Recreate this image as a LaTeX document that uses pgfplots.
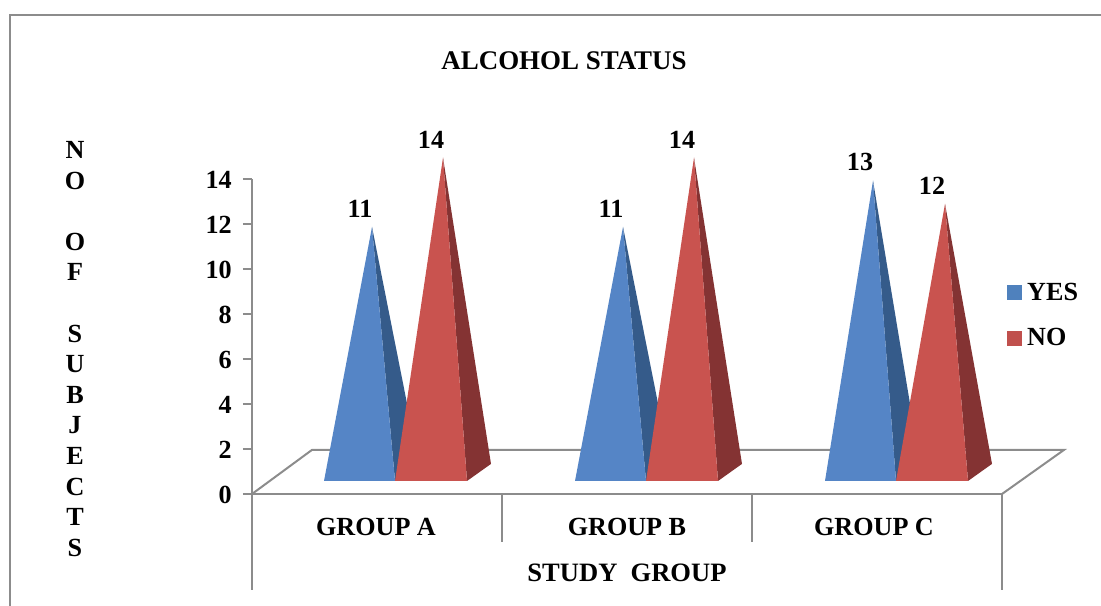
\documentclass[border=0pt]{standalone}
\usepackage{pgfplots}
\pgfplotsset{compat=1.18}
\usepackage{fontspec}
\setmainfont{Liberation Serif}

\definecolor{yesfront}{HTML}{5585C6}
\definecolor{yesside}{HTML}{355B8A}
\definecolor{nofront}{HTML}{C9534F}
\definecolor{noside}{HTML}{843333}
\definecolor{yeskey}{HTML}{4F81BD}
\definecolor{nokey}{HTML}{C0504D}
\definecolor{rulegray}{HTML}{8C8C8C}

\newcommand{\chartfont}{\fontsize{19.6}{22.95}\selectfont\bfseries}

% One drawing unit is one sheet pixel; the plot frame spans x 252..1002, y 179..494.
\pgfplotsset{
  plotframe/.style={
    scale only axis, width=562.5pt, height=236.25pt,
    at={(189pt,84pt)}, anchor=south west, clip=false,
  },
}

\begin{document}
\begin{tikzpicture}
\path[use as bounding box] (0,0) rectangle (825.75pt,454.5pt);

% Outer frame of the chart area
\draw[rulegray, line width=1.5pt] (7.5pt,0pt) -- (7.5pt,443.25pt) -- (825.75pt,443.25pt);

% Value axis, floor and category rules
\begin{axis}[
  plotframe,
  xmin=252, xmax=1002, ymin=0, ymax=14,
  axis x line=bottom, axis y line=left,
  axis line style={rulegray, line width=1.5pt, -},
  ytick={0,2,...,14},
  xtick={376,627,874},
  xticklabels={GROUP A,GROUP B,GROUP C},
  tick style={rulegray, line width=1.5pt},
  major tick length=6.75pt,
  xtick style={draw=none},
  tick align=outside,
  /pgf/number format/assume math mode=true,
  yticklabel style={font=\chartfont, inner sep=0pt, xshift=-8.25pt, yshift=-0.6pt},
  xticklabel style={font=\chartfont, inner sep=0pt, yshift=-11pt},
  title={ALCOHOL STATUS},
  title style={font=\fontsize{20.2}{24}\selectfont\bfseries, at={(0.416,1.35)}, anchor=center},
  xlabel={STUDY\ \ GROUP},
  xlabel style={font=\fontsize{19.9}{24}\selectfont\bfseries, at={(0.5,-0.251)}, anchor=center},
  ylabel={N\\O\\~\\O\\F\\~\\S\\U\\B\\J\\E\\C\\T\\S},
  ylabel style={font=\chartfont, align=center, rotate=-90, at={(-0.236,0.4605)}, anchor=center},
]
% Floor outline
\addplot[rulegray, line width=1.5pt, line join=miter] coordinates {(252,0) (312,1.96) (1064,1.96) (1002,0)};
% Rules below the category axis
\addplot[rulegray, line width=1.5pt] coordinates {(252,0) (252,-4.27)};
\addplot[rulegray, line width=1.5pt] coordinates {(502,0) (502,-2.13)};
\addplot[rulegray, line width=1.5pt] coordinates {(752,0) (752,-2.13)};
\addplot[rulegray, line width=1.5pt] coordinates {(1002,0) (1002,-4.27)};
\end{axis}

% Pyramids: their base line sits on the front of the floor, 13 pixels above the axis
\begin{axis}[
  plotframe,
  hide axis,
  xmin=252, xmax=1002, ymin=-0.5628, ymax=13.074,
  legend style={
    draw=none, fill=none, at={(axis cs:1007,7.17)}, anchor=west,
    font=\chartfont, inner sep=0pt, outer sep=0pt,
    row sep=15.5pt, legend cell align=left,
    /tikz/every odd column/.append style={column sep=2.25pt},
  },
  legend image code/.code={\fill[#1] (0pt,-5.25pt) rectangle (10.5pt,5.25pt);},
]
\addlegendimage{yeskey}
\addlegendentry{YES}
\addlegendimage{nokey}
\addlegendentry{NO}

% GROUP A
\addplot[fill=yesside, draw=none, forget plot] coordinates {(395,0) (419,0.74) (372,11)} --cycle;
\addplot[fill=yesfront, draw=none, forget plot] coordinates {(324,0) (395,0) (372,11)} --cycle;
\addplot[fill=noside, draw=none, forget plot] coordinates {(467,0) (491,0.74) (443,14)} --cycle;
\addplot[fill=nofront, draw=none, forget plot] coordinates {(395,0) (467,0) (443,14)} --cycle;
% GROUP B
\addplot[fill=yesside, draw=none, forget plot] coordinates {(646,0) (670,0.74) (623,11)} --cycle;
\addplot[fill=yesfront, draw=none, forget plot] coordinates {(575,0) (646,0) (623,11)} --cycle;
\addplot[fill=noside, draw=none, forget plot] coordinates {(718,0) (742,0.74) (694,14)} --cycle;
\addplot[fill=nofront, draw=none, forget plot] coordinates {(646,0) (718,0) (694,14)} --cycle;
% GROUP C
\addplot[fill=yesside, draw=none, forget plot] coordinates {(896,0) (920,0.74) (873,13)} --cycle;
\addplot[fill=yesfront, draw=none, forget plot] coordinates {(825,0) (896,0) (873,13)} --cycle;
\addplot[fill=noside, draw=none, forget plot] coordinates {(968,0) (992,0.74) (945,12)} --cycle;
\addplot[fill=nofront, draw=none, forget plot] coordinates {(896,0) (968,0) (945,12)} --cycle;

% Value labels above each apex
\addplot[draw=none, mark=none, forget plot,
  nodes near coords,
  every node near coord/.append style={font=\chartfont, anchor=south, inner sep=0pt, yshift=7pt, /pgf/number format/assume math mode=true},
] coordinates {(360,11) (431,14) (611,11) (682,14) (860,13) (932,12)};
\end{axis}
\end{tikzpicture}
\end{document}
